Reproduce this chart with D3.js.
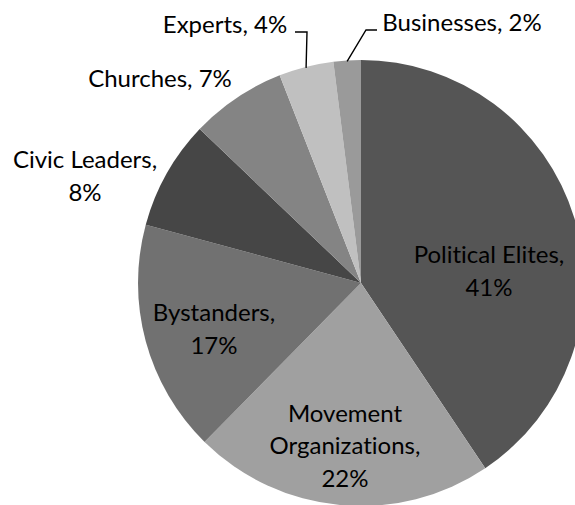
<!DOCTYPE html>
<html><head><meta charset="utf-8">
<script src="https://cdn.jsdelivr.net/npm/d3@7"></script>
<style>
html,body{margin:0;padding:0;background:#fff;overflow:hidden;}
text{font-family:Lato,"Open Sans",sans-serif;fill:#000;font-variant-ligatures:none;font-feature-settings:"liga" 0;}
</style></head>
<body>
<svg id="c" width="575" height="505"></svg>
<script>
const categories = ["Political Elites","Movement Organizations","Bystanders","Civic Leaders","Churches","Experts","Businesses"];
const values = [41,22,17,8,7,4,2];
const labels = ["41%","22%","17%","8%","7%","4%","2%"];
const colors = ["#555555","#a0a0a0","#717171","#464646","#848484","#c0c0c0","#9a9a9a"];

// label layout (text lines and anchor centre)
const labelLines = [
  [categories[0]+",",labels[0]],
  ["Movement","Organizations,",labels[1]],
  [categories[2]+",",labels[2]],
  [categories[3]+",",labels[3]],
  [categories[4]+", "+labels[4]],
  [categories[5]+", "+labels[5]],
  [categories[6]+", "+labels[6]]
];
const labelPos = [[489,271],[345,446],[214,329],[85,176],[160,79],[225,25],[462,23]];

const W=575,H=505,cx=361,cy=283,R=223,FS=24,LH=32.5;
const svg=d3.select("#c");
const pie=d3.pie().sort(null).value(d=>d)(values);
const arc=d3.arc().innerRadius(0).outerRadius(R);
const g=svg.append("g").attr("transform",`translate(${cx},${cy})`);
g.selectAll("path").data(pie).join("path").attr("d",arc).attr("fill",(d,i)=>colors[i]);

// leader lines for small slices
function edgePt(i){const d=pie[i];const a=(d.startAngle+d.endAngle)/2;return [cx+R*Math.sin(a),cy-R*Math.cos(a)];}
const eE=edgePt(5), eB=edgePt(6);
const lineG=svg.append("g").attr("fill","none").attr("stroke","#000").attr("stroke-width",1.4);
lineG.append("polyline").attr("points",[[295,32],[307,32],[eE[0],eE[1]+1]].map(p=>p.join(",")).join(" "));
lineG.append("polyline").attr("points",[[377,30],[366,30],[eB[0],eB[1]+1]].map(p=>p.join(",")).join(" "));

labelLines.forEach((lines,i)=>{
  const [x,y]=labelPos[i];
  const t=svg.append("text").attr("text-anchor","middle").attr("font-size",FS);
  const n=lines.length;
  lines.forEach((s,j)=>{
    t.append("tspan").attr("x",x).attr("y",y+(j-(n-1)/2)*LH).attr("dy","0.35em").text(s);
  });
});
</script>
</body></html>
